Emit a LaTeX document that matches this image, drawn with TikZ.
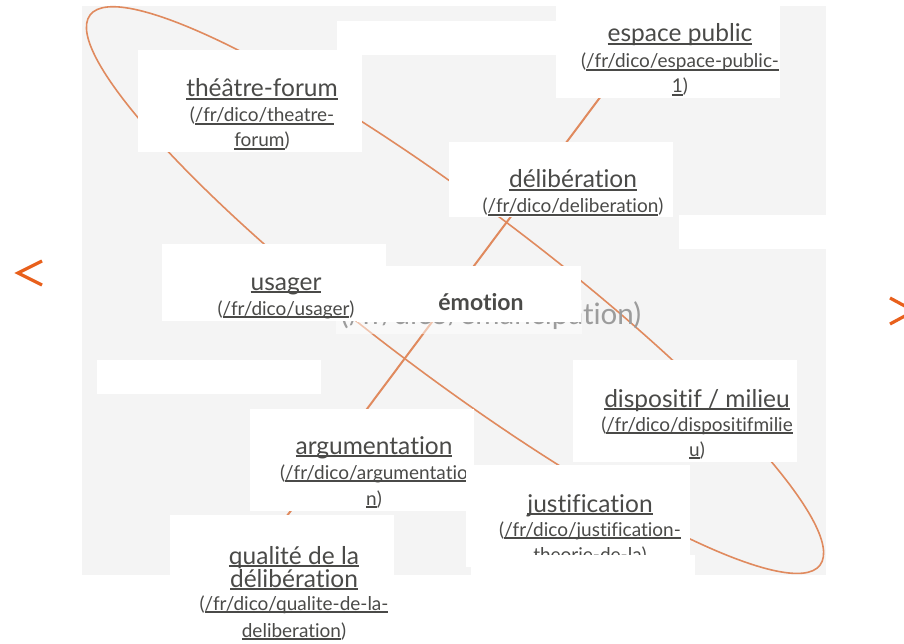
\documentclass[tikz,border=0pt]{standalone}
\usepackage{fontspec}
\setmainfont{Lato}[Ligatures=NoCommon]
\definecolor{bggray}{HTML}{F4F4F4}
\definecolor{lineor}{HTML}{E08A5E}
\definecolor{chev}{HTML}{E8601C}
\definecolor{txt}{HTML}{4A4A48}
\definecolor{ghost}{HTML}{9C9C9C}
\newcommand{\myul}[1]{\leavevmode\setbox0=\hbox{#1}\rlap{\rule[-3pt]{\wd0}{2pt}}\box0}
\tikzset{
  wbox/.style={fill=white, draw=none, anchor=north west, inner sep=0pt, outer sep=0pt, minimum width=224pt},
  ttl/.style={anchor=base, inner sep=0pt, text=txt, font=\fontsize{24.5}{28}\selectfont},
  urlt/.style={anchor=base, inner sep=0pt, text=txt, font=\fontsize{19}{22}\selectfont},
  link/.style={draw=lineor, line width=1.6pt},
  chevron/.style={draw=chev, line width=3.2pt, line cap=butt}
}
\begin{document}
\begin{tikzpicture}[x=1pt,y=-1pt]
\useasboundingbox (0,0) rectangle (904,644);
\clip (0,0) rectangle (904,644);
% background panel
\fill[bggray] (82,6) rectangle (826,575);
% connectors
\coordinate (ellc) at (455,290);
\draw[link, line width=1.6pt, rotate around={-37:(ellc)}] (ellc) ellipse [x radius=457, y radius=85];
\coordinate (lineA) at (628,60);
\coordinate (lineB) at (254,560);
\draw[link, line width=2pt] (lineA) -- (lineB);
% ghost node (emancipation)
\fill[white, opacity=0.5] (336,300) rectangle (582,334);
\node[anchor=base, inner sep=0pt, text=ghost, font=\fontsize{29.5}{32}\selectfont] (eman) at (491,324) {(/fr/dico/emancipation)};
% empty boxes
\node[wbox, minimum width=219pt, minimum height=34pt] (empA) at (337,21) {};
\node[wbox, minimum width=147pt, minimum height=34pt] (empB) at (679,215) {};
\node[wbox, minimum height=34pt] (empC) at (97,360) {};
% espace public
\node[wbox, minimum height=102pt] (espB) at (556,-4) {};
\node[ttl] (esp1) at (680,42) {\myul{espace public}};
\node[urlt] (esp2) at (680,68) {(\myul{/fr/dico/espace-public-}};
\node[urlt] (esp3) at (680,93) {\myul{1})};
% theatre-forum
\node[wbox, minimum height=102pt] (tfB) at (138,50) {};
\node[ttl] (tf1) at (262,97) {\myul{théâtre-forum}};
\node[urlt] (tf2) at (262,122) {(\myul{/fr/dico/theatre-}};
\node[urlt] (tf3) at (262,147) {\myul{forum})};
% deliberation
\node[wbox, minimum height=75pt] (delB) at (449,142) {};
\node[ttl] (del1) at (573,188) {\myul{délibération}};
\node[urlt] (del2) at (573,213) {(\myul{/fr/dico/deliberation})};
% emotion
\node[wbox, minimum height=56pt] (emoB) at (357,266) {};
\node[anchor=base, inner sep=0pt, text=txt, font=\fontsize{23}{26}\selectfont\bfseries] (emo1) at (481,310) {émotion};
% usager
\node[wbox, minimum height=77pt] (usaB) at (162,244) {};
\node[ttl] (usa1) at (286,290) {\myul{usager}};
\node[urlt] (usa2) at (286,315) {(\myul{/fr/dico/usager})};
% dispositif
\node[wbox, minimum height=102pt] (disB) at (573,360) {};
\node[ttl] (dis1) at (697,407) {\myul{dispositif / milieu}};
\node[urlt] (dis2) at (697,431) {(\myul{/fr/dico/dispositifmilie}};
\node[urlt] (dis3) at (697,456) {\myul{u})};
% argumentation
\node[wbox, minimum height=102pt] (argB) at (250,409) {};
\node[ttl] (arg1) at (374,454) {\myul{argumentation}};
\node[urlt] (arg2) at (374,479) {(\myul{/fr/dico/argumentatio}};
\node[urlt] (arg3) at (374,505) {\myul{n})};
% justification
\node[wbox, minimum height=102pt] (jusB) at (466,465) {};
\node[ttl] (jus1) at (590,512) {\myul{justification}};
\node[urlt] (jus2) at (590,536) {(\myul{/fr/dico/justification-}};
\node[urlt] (jus3) at (590,561) {\myul{theorie-de-la})};
\node[wbox, minimum height=25pt] (cover) at (471,555) {};
% qualite
\node[wbox, minimum height=135pt] (quaB) at (170,515) {};
\node[ttl] (qua1) at (294,564) {\myul{qualité de la}};
\node[ttl] (qua2) at (294,587) {\myul{délibération}};
\node[urlt] (qua3) at (294,610) {(\myul{/fr/dico/qualite-de-la-}};
\node[urlt] (qua4) at (294,637) {\myul{deliberation})};
% navigation chevrons
\coordinate (pl1) at (42,261);
\coordinate (pl2) at (18,273);
\coordinate (pl3) at (42,285);
\draw[chevron] (pl1) -- (pl2) -- (pl3);
\coordinate (pr1) at (890,298);
\coordinate (pr2) at (914,311);
\coordinate (pr3) at (890,324);
\draw[chevron] (pr1) -- (pr2) -- (pr3);
\end{tikzpicture}
\end{document}
